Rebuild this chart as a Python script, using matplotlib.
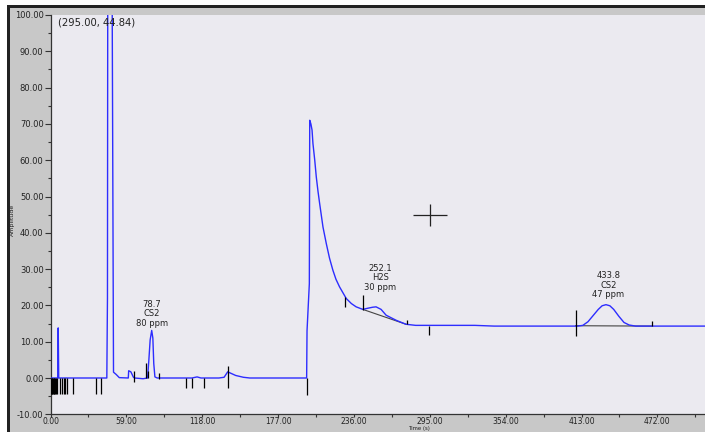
import numpy as np
import matplotlib
matplotlib.use("Agg")
import matplotlib.pyplot as plt
from matplotlib.patches import Rectangle
from matplotlib.ticker import MultipleLocator, FormatStrFormatter

# chromatogram trace (time s, amplitude)
time_s = [0, 5.6, 6.0, 6.4, 43.8, 44.3, 44.6, 47.6, 49.0, 51.0, 53.5,
          60.5, 60.8, 62.5, 64.5, 65.5, 72, 75.5, 76.5, 77.5, 78.7, 79.6,
          80.3, 81.2, 83, 110, 114, 117, 131, 135, 137.8, 144, 150, 155,
          199.2, 199.5, 201.3, 201.6, 202.5, 203.4, 204.1, 205.5, 206.7,
          208.0, 209.3, 211.9, 214.5, 217.0, 219.6, 222.0, 224.8, 230.0,
          234.0, 237.7, 242.9, 246.5, 250.6, 253.2, 257.1,
          261.0, 268.8, 276.5, 284, 330, 345, 410, 414, 418, 422, 426,
          429, 432, 435, 438, 442, 446, 450, 455, 509]
amplitude = [0, 0, 13.8, 0, 0, 22, 140, 140, 1.6, 1.0, 0.1,
             0, 2.0, 1.7, 0.2, 0, -0.2, 0, 5, 10.5, 13.1, 11,
             4, 0.3, 0, 0, 0.3, 0, 0, 0.2, 1.7, 0.7, 0.2, 0,
             0, 13, 26, 71, 70, 68.3, 64.6, 60.0, 55.4,
             51.5, 48.1, 41.6, 37.0, 33.0, 29.7, 27.2, 25.1, 21.9,
             20.5, 19.6, 18.9, 19.2, 19.5, 19.6, 18.9,
             17.3, 15.9, 14.8, 14.5, 14.5, 14.3, 14.3, 14.5, 15.5, 17.2, 18.9,
             19.9, 20.2, 19.9, 18.9, 17.0, 15.3, 14.6, 14.3, 14.3]

# integration event markers (time, low, high)
mark_t = [0.5, 1.0, 1.5, 2.0, 2.5, 3.0, 3.5, 3.9, 5.2, 7.0, 9.0, 10.3, 11.6,
          12.9, 17.3, 35.4, 39.5, 64.6, 74.4, 76.2, 84.0, 105.2, 109.8,
          119.4, 137.8, 199.5, 229.2, 242.9, 277.0, 294.0, 408.3, 467.7]
mark_lo = [-4.5] * 17 + [-1.2, 0, 0, -0.3, -2.7, -2.7, -2.7, -2.7, -4.8,
                          19.6, 18.7, 14.8, 11.8, 11.5, 14.3]
mark_hi = [0] * 17 + [2.0, 4.0, 2.0, 1.3, 0, 0, 0, 3.3, 0,
                      22.3, 23.0, 16.1, 14.3, 18.7, 15.6]

# drawn baselines under integrated peaks
base_t0 = [242.9, 408.3]
base_a0 = [18.9, 14.4]
base_t1 = [276.5, 467.7]
base_a1 = [14.8, 14.3]

# peak labels
peak_t = [78.7, 252.1, 433.8]
peak_top = [13.1, 19.6, 20.2]
peak_name = ["CS2", "H2S", "CS2"]
peak_ppm = [80, 30, 47]
label_off = [(0, 2), (4, 11), (0, 4)]

cursor = (295.00, 44.84)

fig = plt.figure(figsize=(7.05, 4.32), dpi=100, facecolor="white")
W, H = 705, 432
fig.add_artist(Rectangle((10 / W, 0), 1, (H - 8) / H, transform=fig.transFigure,
                         facecolor="#c8c8c8", edgecolor="none", zorder=0))
fig.add_artist(Rectangle((7 / W, 0), 3 / W, (H - 6) / H, transform=fig.transFigure,
                         facecolor="#222222", edgecolor="none", zorder=1))
fig.add_artist(Rectangle((7 / W, (H - 8) / H), 1, 2.5 / H, transform=fig.transFigure,
                         facecolor="#222222", edgecolor="none", zorder=1))

ax = fig.add_axes([50.5 / W, 17.7 / H, (W - 50.5) / W, (414.3 - 15) / H])
ax.set_facecolor("#ebeaf0")

ax.plot(time_s, amplitude, color="#2d2dff", lw=1.0, zorder=3)
ax.vlines(mark_t, mark_lo, mark_hi, color="black", lw=0.9, zorder=4)
for t0, a0, t1, a1 in zip(base_t0, base_a0, base_t1, base_a1):
    ax.plot([t0, t1], [a0, a1], color="#444444", lw=0.8, zorder=2)

for t, top, name, ppm, off in zip(peak_t, peak_top, peak_name, peak_ppm, label_off):
    ax.annotate(f"{t}\n{name}\n{ppm} ppm", xy=(t, top), xytext=off,
                textcoords="offset points", ha="center", va="bottom",
                fontsize=6, color="#222222", linespacing=1.05)

ax.plot(cursor[0], cursor[1], marker="_", ms=25, mew=0.9, color="#222222")
ax.plot(cursor[0], cursor[1], marker="|", ms=16, mew=0.9, color="#222222")
ax.text(0.011, 0.993, "(%.2f, %.2f)" % cursor, transform=ax.transAxes,
        ha="left", va="top", fontsize=7.2, color="#222222")

ax.set_xlim(0, 509)
ax.set_ylim(-10, 100)
ax.xaxis.set_major_locator(MultipleLocator(59))
ax.xaxis.set_minor_locator(MultipleLocator(29.5))
ax.yaxis.set_major_locator(MultipleLocator(10))
ax.yaxis.set_minor_locator(MultipleLocator(5))
ax.xaxis.set_major_formatter(FormatStrFormatter("%.2f"))
ax.yaxis.set_major_formatter(FormatStrFormatter("%.2f"))
ax.tick_params(which="both", direction="out", color="#333333", width=0.8,
               labelsize=6, labelcolor="#222222")
ax.tick_params(axis="y", which="major", length=4, pad=1)
ax.tick_params(axis="x", which="major", length=2.2, pad=0, labelsize=5.5)
ax.tick_params(which="minor", length=2)

for side in ("top", "right"):
    ax.spines[side].set_visible(False)
for side in ("left", "bottom"):
    ax.spines[side].set_color("#333333")
    ax.spines[side].set_linewidth(0.9)

ax.set_ylabel("Amplitude", fontsize=4.5, color="#222222")
ax.yaxis.set_label_coords(-0.054, 0.487)
ax.set_xlabel("Time (s)", fontsize=3.9, color="#222222", va="top")
ax.xaxis.set_label_coords(0.563, -0.0285)

fig.savefig("out.png", dpi=100, facecolor=fig.get_facecolor())
